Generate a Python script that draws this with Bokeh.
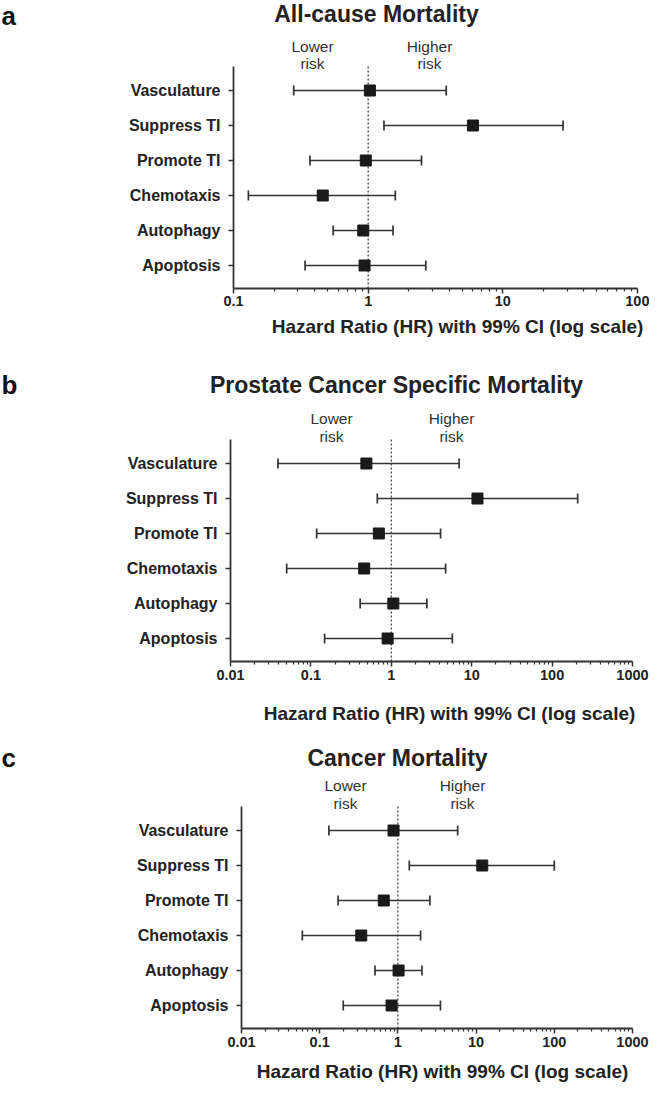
import numpy as np
from bokeh.plotting import figure
from bokeh.layouts import column
from bokeh.models import (Range1d, FixedTicker, Whisker, ColumnDataSource,
                          TeeHead, CustomJSTickFormatter)
from bokeh.core.properties import value
from bokeh.embed import file_html
from bokeh.resources import INLINE

# ---------------- data (rows listed bottom -> top) ----------------
categories = ["Apoptosis", "Autophagy", "Chemotaxis", "Promote TI", "Suppress TI", "Vasculature"]

a_hr = [0.94, 0.92, 0.46, 0.96, 6.0, 1.03]
a_lo = [0.34, 0.55, 0.129, 0.37, 1.31, 0.28]
a_hi = [2.68, 1.53, 1.59, 2.49, 28.0, 3.8]

b_hr = [0.90, 1.06, 0.46, 0.70, 11.8, 0.49]
b_lo = [0.148, 0.41, 0.05, 0.118, 0.67, 0.039]
b_hi = [5.74, 2.77, 4.74, 4.1, 208.0, 6.97]

c_hr = [0.83, 1.02, 0.34, 0.66, 12.0, 0.88]
c_lo = [0.20, 0.51, 0.06, 0.172, 1.40, 0.131]
c_hi = [3.5, 2.03, 1.95, 2.56, 100.0, 5.81]

a_ticks = [0.1, 1, 10, 100]
bc_ticks = [0.01, 0.1, 1, 10, 100, 1000]
ref_hr = 1

titles = ["All-cause Mortality", "Prostate Cancer Specific Mortality", "Cancer Mortality"]
letters = ["a", "b", "c"]
x_title = "Hazard Ratio (HR) with 99% CI (log scale)"

TXT = "#222222"
LINE = "#333333"
FONT = "Liberation Sans"
W = 649          # canvas width
ROW = 35         # px between rows


def blank(h):
    p = figure(width=W, height=int(h), x_range=Range1d(0, W), y_range=Range1d(h, 0),
               title=None, x_axis_location=None, y_axis_location=None,
               toolbar_location=None, output_backend="svg", frame_align=False,
               min_border_left=0, min_border_right=0, min_border_top=0, min_border_bottom=0)
    p.outline_line_color = None
    p.grid.visible = False
    return p


def header(top, h, title, title_xy, letter_y):
    p = blank(h)
    p.text(x=[title_xy[0]], y=[title_xy[1] - top], text=[title[0]],
           text_font=value(FONT), text_font_size=value("23px"), text_font_style="bold",
           text_align="center", text_baseline="middle", text_color=TXT)
    p.text(x=[1], y=[letter_y - top], text=[title[1]],
           text_font=value(FONT), text_font_size=value("26px"), text_font_style="bold",
           text_align="left", text_baseline="middle", text_color="#111111")
    return p


def footer(top, h, xy):
    p = blank(h)
    p.text(x=[xy[0]], y=[xy[1] - top], text=[x_title],
           text_font=value(FONT), text_font_size=value("19px"), text_font_style="bold",
           text_align="center", text_baseline="middle", text_color=TXT)
    return p


def panel(hr, lo, hi, ticks, top, bottom, fl, fr, row6, tick_standoff,
          lower_x, higher_x, risk_y):
    xmin, xmax = ticks[0], ticks[-1]
    ab = int(row6 + 5 * ROW + 23)     # x-axis (frame bottom) in px
    y0 = 1 - 23 / ROW
    y_axis_top = 6 + 24 / ROW
    y_end = 6 + (row6 - top) / ROW
    p = figure(width=W, height=int(bottom - top), x_axis_type="log", title=None,
               x_range=Range1d(xmin, xmax), y_range=Range1d(y0, y_end),
               output_backend="svg", toolbar_location=None, frame_align=False,
               min_border_left=int(fl), min_border_right=int(W - fr),
               min_border_top=0, min_border_bottom=int(bottom - ab))
    p.outline_line_color = None
    p.grid.visible = False

    def xd(px):
        return 10 ** (np.log10(xmin) + (px - fl) / (fr - fl) * (np.log10(xmax) - np.log10(xmin)))

    def yd(py):
        return 6 + (row6 - py) / ROW

    minor = [m * 10.0 ** e for e in range(int(round(np.log10(xmin))), int(round(np.log10(xmax))))
             for m in range(2, 10)]
    xa = p.xaxis[0]
    xa.ticker = FixedTicker(ticks=ticks, minor_ticks=minor)
    xa.formatter = CustomJSTickFormatter(code="return tick.toString();")
    xa.axis_line_color = LINE
    xa.axis_line_width = 1.8
    xa.major_tick_line_color = LINE
    xa.major_tick_line_width = 1.5
    xa.minor_tick_line_color = LINE
    xa.minor_tick_line_width = 1.2
    xa.major_tick_in = 0
    xa.major_tick_out = 5
    xa.minor_tick_in = 0
    xa.minor_tick_out = 3
    xa.major_label_standoff = tick_standoff
    xa.major_label_text_font = FONT
    xa.major_label_text_font_style = "bold"
    xa.major_label_text_font_size = "14.5px"
    xa.major_label_text_color = TXT

    ya = p.yaxis[0]
    ya.ticker = FixedTicker(ticks=[1, 2, 3, 4, 5, 6])
    ya.bounds = (y0, y_axis_top)
    ya.major_label_overrides = {i + 1: c for i, c in enumerate(categories)}
    ya.axis_line_color = LINE
    ya.axis_line_width = 1.8
    ya.major_tick_line_color = LINE
    ya.major_tick_line_width = 1.5
    ya.major_tick_in = 0
    ya.major_tick_out = 5
    ya.minor_tick_out = 0
    ya.minor_tick_in = 0
    ya.major_label_standoff = 8
    ya.major_label_text_font = FONT
    ya.major_label_text_font_style = "bold"
    ya.major_label_text_font_size = "16px"
    ya.major_label_text_color = TXT

    # dotted reference line at HR = 1, spanning the y axis
    p.segment(x0=[ref_hr], y0=[y0], x1=[ref_hr], y1=[y_axis_top],
              line_color="#444444", line_width=1.3, line_dash="2 2")

    ys = list(range(1, len(categories) + 1))
    src = ColumnDataSource(dict(y=ys, hr=hr, lo=lo, hi=hi))
    p.add_layout(Whisker(base="y", lower="lo", upper="hi", dimension="width", source=src,
                         line_color=LINE, line_width=1.7,
                         lower_head=TeeHead(size=10, line_color=LINE, line_width=1.7),
                         upper_head=TeeHead(size=10, line_color=LINE, line_width=1.7)))
    p.scatter(x="hr", y="y", source=src, marker="square", size=11,
              fill_color="#1a1a1a", line_color="#1a1a1a")

    p.text(x=[xd(lower_x), xd(lower_x), xd(higher_x), xd(higher_x)],
           y=[yd(risk_y[0]), yd(risk_y[1]), yd(risk_y[0]), yd(risk_y[1])],
           text=["Lower", "risk", "Higher", "risk"],
           text_font=value(FONT), text_font_size=value("15.5px"),
           text_align="center", text_baseline="middle", text_color="#333333")
    return p


# Panel a
hA = header(0, 37, (titles[0], letters[0]), (376, 13), 15)
pA = panel(a_hr, a_lo, a_hi, a_ticks, top=37, bottom=314, fl=233, fr=637, row6=90,
           tick_standoff=2, lower_x=312, higher_x=429, risk_y=(46, 63))
fA = footer(314, 44, (457, 326))

# Panel b
hB = header(358, 43, (titles[1], letters[1]), (396, 384), 384)
pB = panel(b_hr, b_lo, b_hi, bc_ticks, top=401, bottom=688, fl=230, fr=632, row6=463,
           tick_standoff=3, lower_x=331, higher_x=451, risk_y=(418, 436))
fB = footer(688, 50, (449, 713))

# Panel c
hC = header(738, 37, (titles[2], letters[2]), (397, 757), 757)
pC = panel(c_hr, c_lo, c_hi, bc_ticks, top=775, bottom=1055, fl=241, fr=632, row6=830,
           tick_standoff=3, lower_x=345, higher_x=462, risk_y=(785, 802.5))
fC = footer(1055, 27, (442, 1071))

layout = column(hA, pA, fA, hB, pB, fB, hC, pC, fC, spacing=0)
open("out.html", "w").write(file_html(layout, INLINE))
